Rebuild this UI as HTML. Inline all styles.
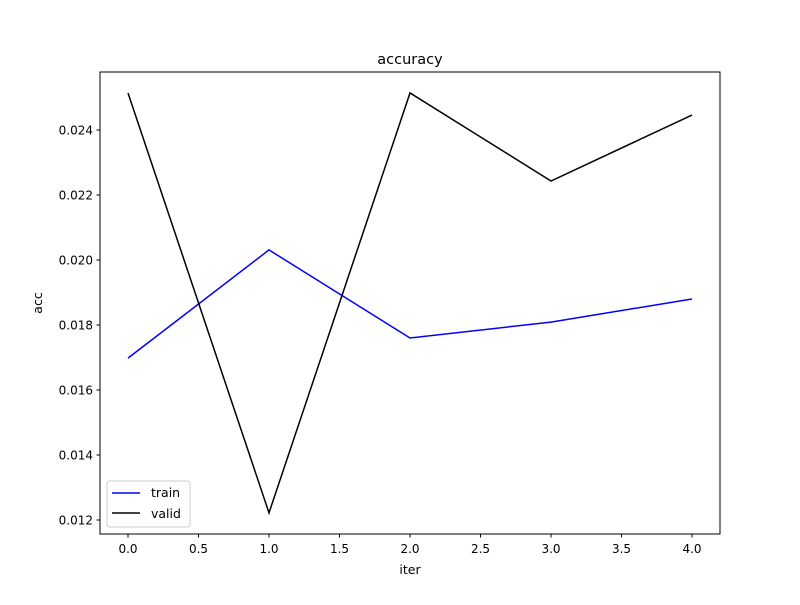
<!DOCTYPE html>
<html><head><meta charset="utf-8"><style>
body{margin:0;background:#fff;}
text{font-family:"DejaVu Sans","Liberation Sans",sans-serif;}
</style></head><body>
<svg id="chart" width="800" height="600" xmlns="http://www.w3.org/2000/svg">
<rect width="800" height="600" fill="#fff"/>
<text x="410" y="64" font-size="14.5" text-anchor="middle">accuracy</text>
<text x="410" y="574" font-size="12.5" text-anchor="middle">iter</text>
<text transform="translate(42,303) rotate(-90)" font-size="12.5" text-anchor="middle">acc</text>
<g id="ticks"></g>
<g id="lines"></g>
<rect x="100" y="72" width="620" height="462" fill="none" stroke="#000" stroke-width="1"/>
<g>
<rect x="107" y="481" width="83" height="46" rx="3" fill="#fff" fill-opacity="0.8" stroke="#ccc"/>
<line x1="112" y1="493" x2="140" y2="493" stroke="#0000ff" stroke-width="1.5"/>
<text x="151" y="497" font-size="12.5">train</text>
<line x1="112" y1="513" x2="140" y2="513" stroke="#000" stroke-width="1.5"/>
<text x="151" y="518" font-size="12.5">valid</text>
</g>
</svg>
<script>
const iters = [0, 1, 2, 3, 4];
const train = [0.01698, 0.02031, 0.0176, 0.01809, 0.0188];
const valid = [0.02514, 0.01222, 0.02514, 0.02243, 0.02446];
const xTicks = [0, 0.5, 1, 1.5, 2, 2.5, 3, 3.5, 4];
const yTicks = [0.012, 0.014, 0.016, 0.018, 0.020, 0.022, 0.024];
const NS = "http://www.w3.org/2000/svg";
function xs(v){return 128 + v*141;}
function ys(v){return 520 - (v-0.012)/0.002*65;}
const tg = document.getElementById('ticks');
xTicks.forEach(t=>{
  const l=document.createElementNS(NS,'line');
  
  
  l.setAttribute('x1',xs(t));l.setAttribute('x2',xs(t));l.setAttribute('y1',534);l.setAttribute('y2',537.5);l.setAttribute('stroke','#000');
  tg.appendChild(l);
  const tx=document.createElementNS(NS,'text');
  
  
  tx.setAttribute('x',xs(t));tx.setAttribute('y',553);tx.setAttribute('font-size','12');tx.setAttribute('text-anchor','middle');
  tx.textContent=t.toFixed(1);tg.appendChild(tx);
});
yTicks.forEach(t=>{
  const l=document.createElementNS(NS,'line');
  
  
  l.setAttribute('x1',96.5);l.setAttribute('x2',100);l.setAttribute('y1',ys(t));l.setAttribute('y2',ys(t));l.setAttribute('stroke','#000');
  tg.appendChild(l);
  const tx=document.createElementNS(NS,'text');
  
  
  tx.setAttribute('x',93);tx.setAttribute('y',ys(t)+4.5);tx.setAttribute('font-size','12');tx.setAttribute('text-anchor','end');
  tx.textContent=t.toFixed(3);tg.appendChild(tx);
});
const lg=document.getElementById('lines');
function drawLine(vals,color,name){
  const p=document.createElementNS(NS,'polyline');
  
  
  p.setAttribute('points',vals.map((v,i)=>xs(iters[i])+','+ys(v)).join(' '));
  p.setAttribute('fill','none');p.setAttribute('stroke',color);p.setAttribute('stroke-width','1.5');
  lg.appendChild(p);
}
drawLine(train,'#0000ff','train-line');
drawLine(valid,'#000000','valid-line');
</script>
</body></html>
